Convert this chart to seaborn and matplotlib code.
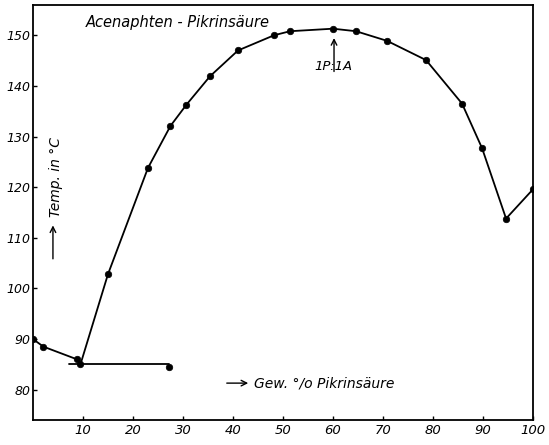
import matplotlib
matplotlib.use("Agg")
import matplotlib.pyplot as plt
import seaborn as sns

# --- data ---
x_left = [0, 2.1, 8.8, 9.5]
y_left = [90.0, 88.5, 86.0, 85.0]

x_main = [9.5, 15, 23, 27.5, 30.7, 35.4, 41, 48.2, 51.4, 60, 64.6, 70.8, 78.6, 85.8, 89.8, 94.6]
y_main = [85.0, 102.8, 123.8, 132.1, 136.3, 141.9, 147.0, 150.0, 150.8, 151.3, 150.8, 148.9, 145.1, 136.5, 127.7, 113.8]

x_right = [94.6, 100]
y_right = [113.8, 119.6]

x_eut = [7.3, 27.3]
y_eut = [85.0, 85.0]

x_pts = [0, 2.1, 8.8, 9.5, 27.3, 15, 23, 27.5, 30.7, 35.4, 41, 48.2, 51.4, 60, 64.6, 70.8, 78.6, 85.8, 89.8, 94.6, 100]
y_pts = [90.0, 88.5, 86.0, 85.0, 84.4, 102.8, 123.8, 132.1, 136.3, 141.9, 147.0, 150.0, 150.8, 151.3, 150.8, 148.9, 145.1, 136.5, 127.7, 113.8, 119.6]

x_ticks = [10, 20, 30, 40, 50, 60, 70, 80, 90, 100]
y_ticks = [80, 90, 100, 110, 120, 130, 140, 150]

sns.set_style("ticks")
plt.rcParams['font.family'] = ['DejaVu Sans']
plt.rcParams['text.color'] = 'black'

fig = plt.figure(figsize=(5.49, 4.45), dpi=100)
ax = fig.add_axes([0.060, 0.056, 0.911, 0.933])

for xs, ys in [(x_left, y_left), (x_main, y_main), (x_right, y_right), (x_eut, y_eut)]:
    sns.lineplot(x=xs, y=ys, ax=ax, color="black", linewidth=1.3, sort=False, estimator=None)

sns.scatterplot(x=x_pts, y=y_pts, ax=ax, color="black", s=22, edgecolor="black", linewidth=0.5, zorder=5)

ax.set_xlim(0, 100)
ax.set_ylim(74, 156)
ax.set_xticks(x_ticks)
ax.set_yticks(y_ticks)
ax.set_xticklabels([str(v) for v in x_ticks], fontstyle="italic", fontsize=9.5, color="black")
ax.set_yticklabels([str(v) for v in y_ticks], fontstyle="italic", fontsize=9, color="black")
ax.tick_params(axis="y", direction="in", length=3, width=1, pad=2, colors="black")
ax.tick_params(axis="x", direction="in", length=3, width=1, pad=3, colors="black")
for s in ax.spines.values():
    s.set_visible(True)
    s.set_color("black")
    s.set_linewidth(1.3)
ax.set_xlabel("")
ax.set_ylabel("")

# title inside
ax.text(29, 152.6, "Acenaphten - Pikrinsäure", ha="center", va="center",
        fontstyle="italic", fontsize=10.5, color="black")

# 1P:1A annotation
ax.annotate("", xy=(60.2, 150.0), xytext=(60.2, 142.3),
            arrowprops=dict(arrowstyle="->", color="black", lw=1.0))
ax.text(60, 143.9, "1P:1A", ha="center", va="center", fontstyle="italic", fontsize=9.5, color="black")

# y label with arrow
ax.annotate("", xy=(4.0, 113.0), xytext=(4.0, 105.3),
            arrowprops=dict(arrowstyle="->", color="black", lw=1.0))
ax.text(4.6, 122.0, "Temp. in °C", rotation=90, ha="center", va="center",
        fontstyle="italic", fontsize=10, color="black")

# x label with arrow
ax.annotate("", xy=(43.6, 81.3), xytext=(38.2, 81.3),
            arrowprops=dict(arrowstyle="->", color="black", lw=1.0))
ax.text(44.2, 81.3, "Gew. °/o Pikrinsäure", ha="left", va="center",
        fontstyle="italic", fontsize=10, color="black")

fig.savefig("out.png", dpi=100)
